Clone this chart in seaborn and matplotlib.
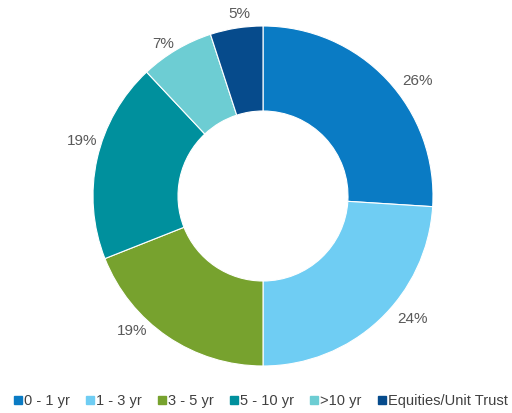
import matplotlib
matplotlib.use("Agg")
import matplotlib.pyplot as plt
from matplotlib.lines import Line2D
import numpy as np
import seaborn as sns

# --- data ---
categories = ["0 - 1 yr", "1 - 3 yr", "3 - 5 yr", "5 - 10 yr", ">10 yr", "Equities/Unit Trust"]
shares = [26, 24, 19, 19, 7, 5]
colors = ["#0A7BC4", "#6FCDF3", "#77A22E", "#00909D", "#6DCDD3", "#064B8C"]

# label placement tweaks (Excel "best fit"): angle nudge in degrees, distance in radii
label_nudge = [-6.6, 7.4, -9.8, -4.4, 2.7, -1.5]
label_dist = [1.135, 1.14, 1.105, 1.11, 1.07, 1.08]

sns.set_theme(style="white")
plt.rcParams["font.family"] = ["Liberation Sans", "DejaVu Sans"]
palette = sns.color_palette(colors)

W, H = 512, 413
cx, cy, R = 263, 196, 170  # donut centre / radius in pixels

fig = plt.figure(figsize=(W / 100, H / 100), dpi=100)
ax = fig.add_axes([0, 0, 1, 1])

wedges, _ = ax.pie(
    shares,
    colors=palette,
    startangle=90,
    counterclock=False,
    radius=1,
    wedgeprops=dict(width=0.5, edgecolor="white", linewidth=0.8),
)

# percentage labels outside the ring
for w, v, dn, dd in zip(wedges, shares, label_nudge, label_dist):
    ang = np.deg2rad((w.theta1 + w.theta2) / 2 + dn)
    ax.text(dd * np.cos(ang), dd * np.sin(ang), f"{v}%", ha="center", va="center",
            color="#595959", fontsize=11)

# pie resets the limits, so place the donut afterwards
ax.set_aspect("auto")
ax.set_xlim(-cx / R, (W - cx) / R)
ax.set_ylim(-(H - cy) / R, cy / R)
ax.axis("off")

handles = [Line2D([0], [0], marker="s", linestyle="", markersize=6,
                  markerfacecolor=c, markeredgecolor=c) for c in palette]
fig.legend(handles, categories, loc="center", bbox_to_anchor=(0.51, 1 - 401 / H),
           ncol=6, frameon=False, fontsize=10.5, handlelength=0.5,
           handletextpad=0.15, columnspacing=1.15, labelcolor="#404040",
           borderpad=0, borderaxespad=0)

fig.savefig("out.png", dpi=100)
